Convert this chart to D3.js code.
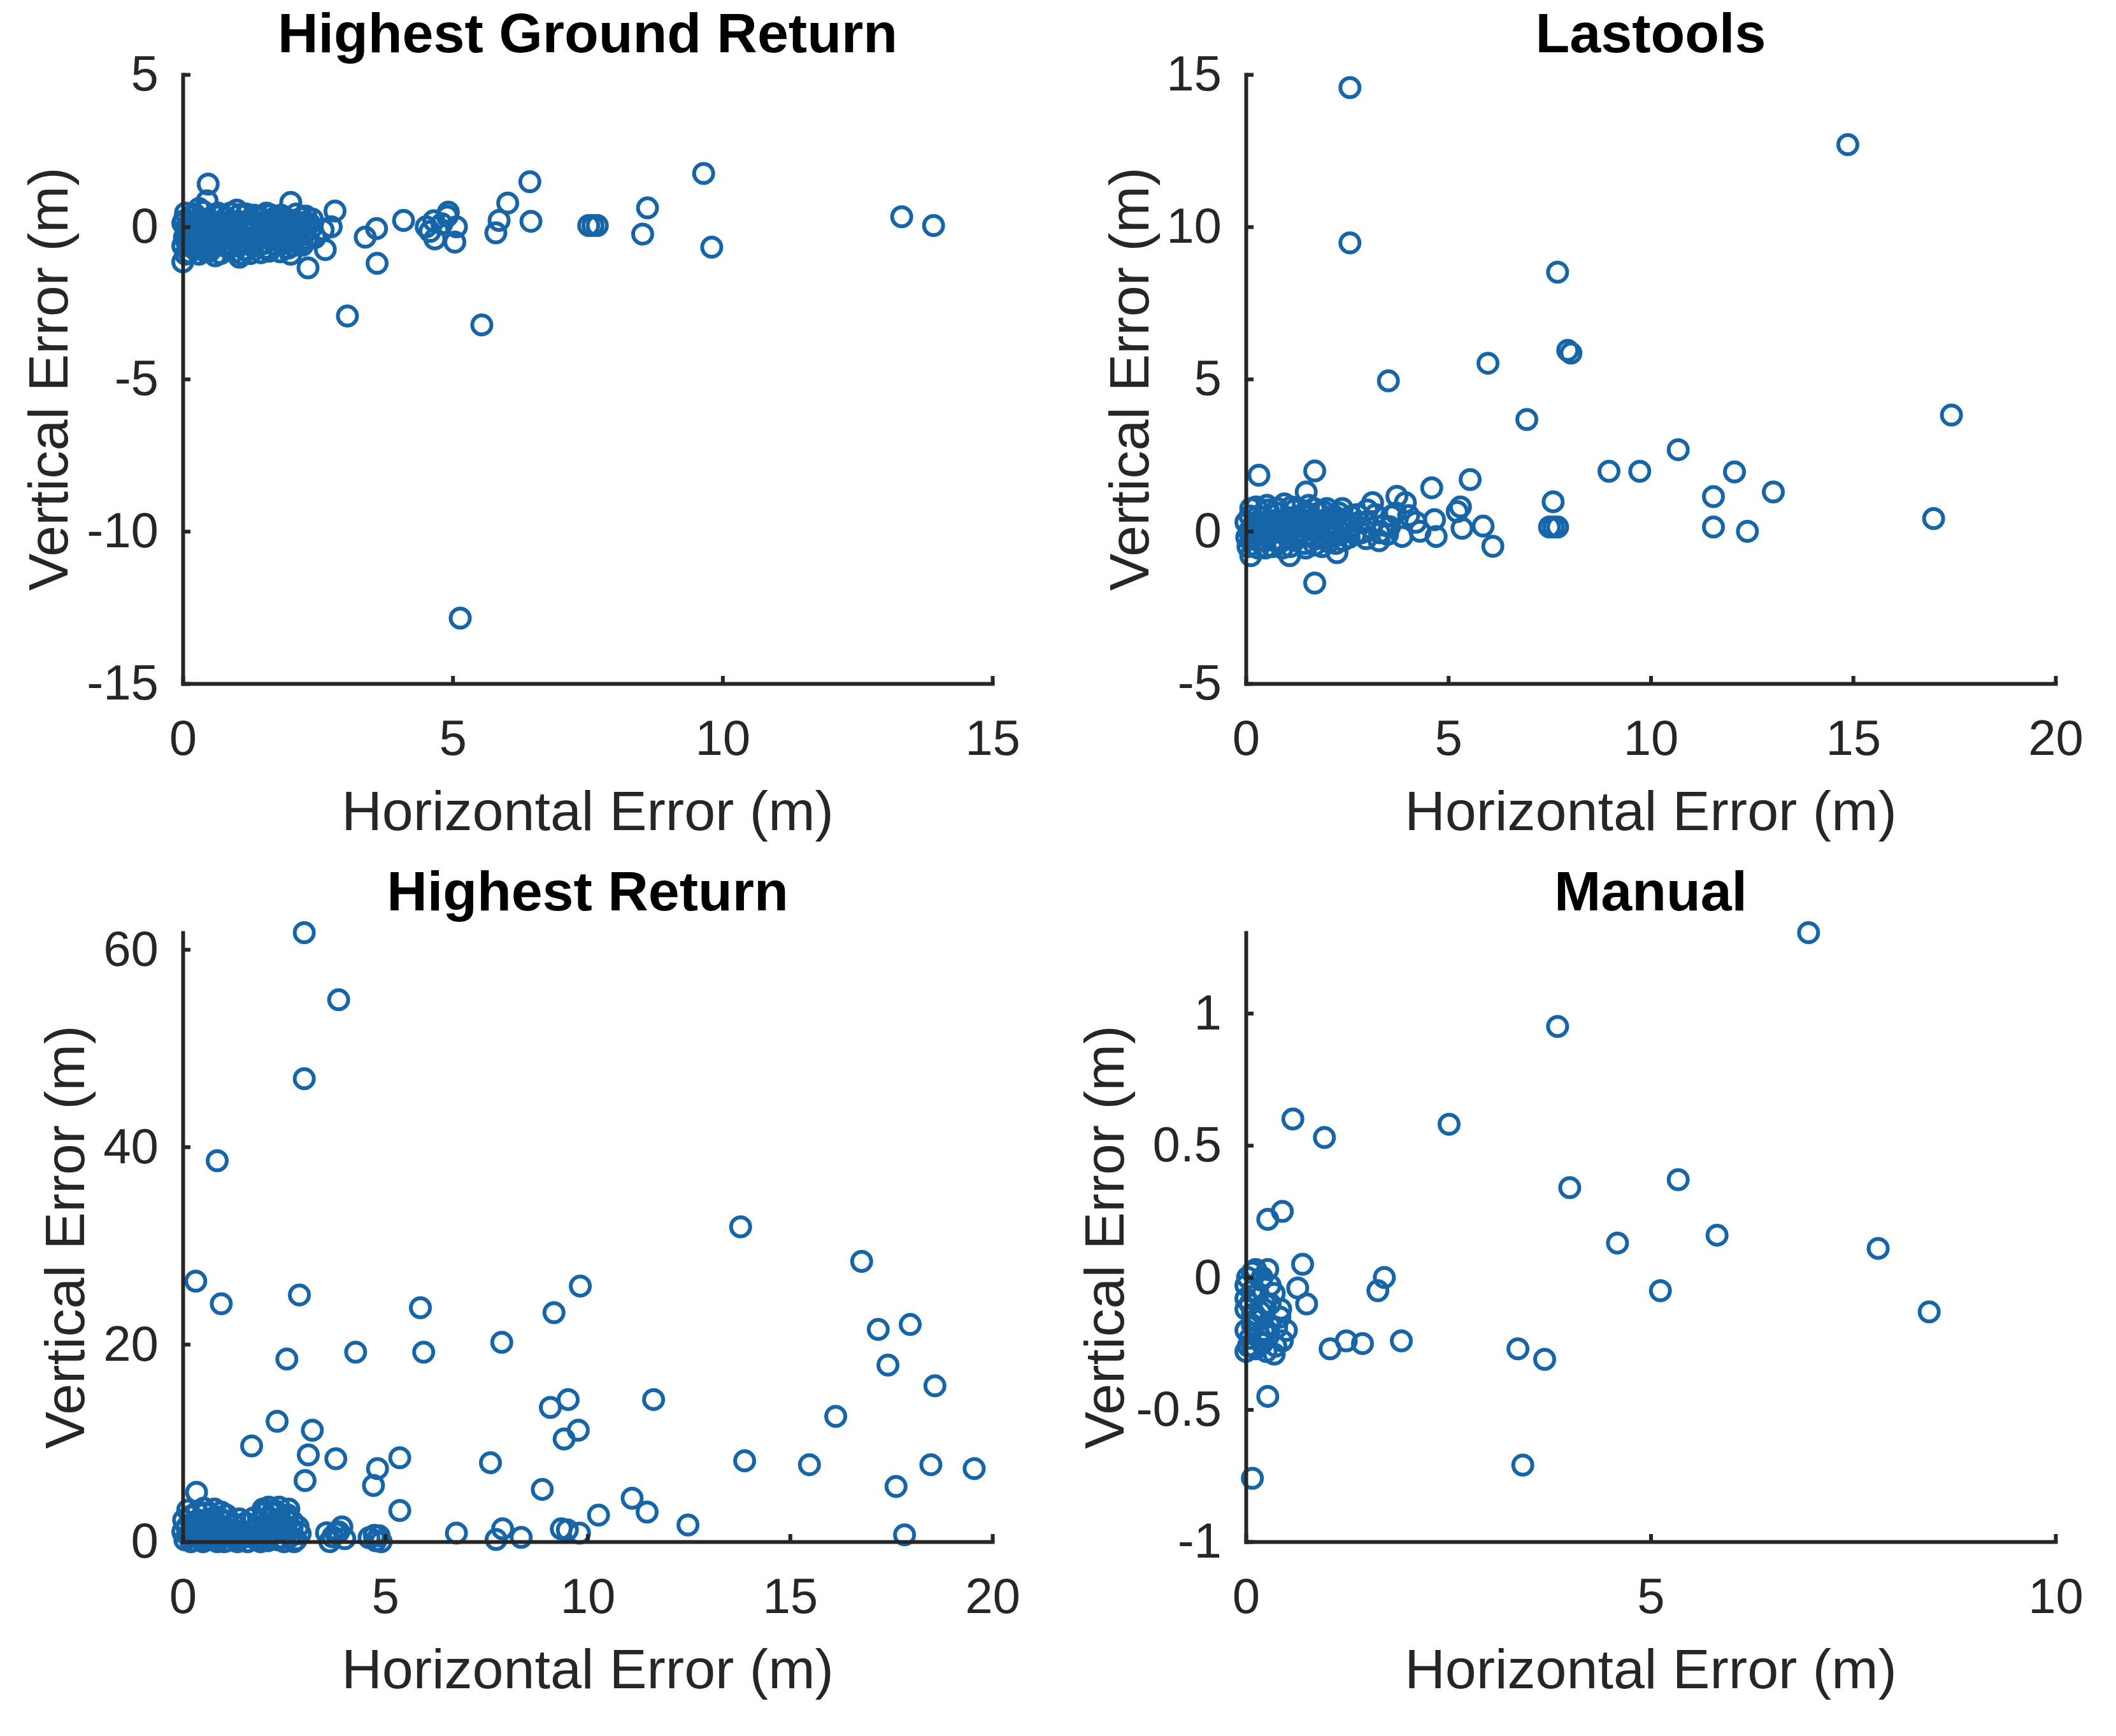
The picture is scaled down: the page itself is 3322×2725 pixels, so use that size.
<!DOCTYPE html>
<html>
<head>
<meta charset="utf-8">
<script src="https://cdn.jsdelivr.net/npm/d3@7"></script>
<style>
  body { margin: 0; background: #fff; }
  svg { display: block; }
</style>
</head>
<body>
<svg id="chart"></svg>
<script>
// horizontal / vertical error pairs [x, y]

const ground_pts = [
  [9.65, 1.75], [6.43, 1.48], [6.02, 0.78], [6.45, 0.18], [8.61, 0.62], [8.52, -0.24],
  [9.8, -0.67], [7.52, 0.04], [7.6, 0.04], [7.68, 0.04], [13.32, 0.33], [13.91, 0.04],
  [3.05, -2.93], [5.54, -3.22], [5.14, -12.85], [3.6, -1.2], [3.59, -0.06], [3.38, -0.34],
  [4.09, 0.21], [4.51, 0.0], [4.9, 0.35], [4.65, 0.2], [5.07, 0.0], [4.67, -0.4],
  [5.04, -0.5], [4.92, 0.48], [5.8, -0.2], [5.86, 0.21], [2.82, 0.52], [2.75, 0.0],
  [2.32, -1.35], [2.64, -0.75], [2.0, 0.8], [0.47, 1.4], [2.45, -0.35], [2.6, -0.1],
  [2.4, 0.25], [4.58, -0.15], [4.8, 0.1],
  // dense cluster near the origin
  [0.05, -0.9], [0.08, -0.5], [0.1, -0.2], [0.12, 0.1], [0.15, 0.35], [0.2, -0.7],
  [0.25, -0.35], [0.28, 0.0], [0.3, 0.6], [0.35, -0.1], [0.4, -0.55], [0.45, 0.25],
  [0.5, -0.8], [0.55, -0.25], [0.6, 0.1], [0.65, 0.45], [0.7, -0.45], [0.75, -0.05],
  [0.8, 0.3], [0.85, -0.7], [0.9, -0.2], [0.95, 0.15], [1.0, -0.5], [1.05, 0.4],
  [1.1, -0.9], [1.12, -0.1], [1.2, 0.2], [1.25, -0.35], [1.3, -0.65], [1.35, 0.05],
  [1.4, 0.35], [1.45, -0.2], [1.5, -0.55], [1.55, 0.15], [1.6, -0.8], [1.65, -0.3],
  [1.7, 0.3], [1.75, 0.0], [1.8, -0.5], [1.85, -0.15], [1.9, 0.2], [1.95, -0.7],
  [2.0, -0.35], [2.05, 0.1], [2.1, -0.1], [2.15, -0.55], [2.2, 0.3], [2.25, -0.25],
  [2.3, 0.05], [0.02, 0.2], [0.03, -0.35], [0.0, -1.15], [0.6, -0.95], [1.15, -0.75],
  [0.45, 0.85], [1.0, 0.55], [1.05, -1.0],
  [0.05, 0.45], [0.22, 0.42], [0.38, 0.5], [0.58, 0.38], [0.72, 0.4], [0.88, 0.45],
  [1.18, 0.42], [1.32, 0.38], [1.55, 0.45], [1.62, 0.4], [1.82, 0.38], [2.1, 0.42],
  [2.28, 0.35], [0.0, 0.12], [0.2, 0.18], [0.4, 0.12], [0.52, 0.2], [0.7, 0.15],
  [0.85, 0.1], [1.0, 0.18], [1.28, 0.15], [1.45, 0.12], [1.62, 0.2], [1.8, 0.1],
  [2.0, 0.22], [2.15, 0.15], [2.35, 0.1], [0.05, -0.05], [0.18, -0.12], [0.42, -0.08],
  [0.5, -0.15], [0.65, -0.1], [0.82, -0.05], [1.02, -0.12], [1.18, -0.08], [1.3, -0.15],
  [1.5, -0.05], [1.68, -0.12], [1.95, -0.08], [2.18, -0.12], [2.38, -0.05], [0.12, -0.38],
  [0.3, -0.3], [0.48, -0.4], [0.62, -0.32], [0.8, -0.38], [0.95, -0.3], [1.1, -0.4],
  [1.4, -0.32], [1.58, -0.38], [1.75, -0.3], [1.9, -0.4], [2.08, -0.32], [2.3, -0.4],
  [0.0, -0.62], [0.15, -0.55], [0.3, -0.65], [0.58, -0.58], [0.75, -0.62], [0.92, -0.6],
  [1.15, -0.55], [1.4, -0.62], [1.55, -0.7], [1.72, -0.6], [1.88, -0.55], [2.05, -0.62],
  [2.22, -0.6], [0.12, -0.85], [0.3, -0.9], [0.42, -0.82], [0.7, -0.88], [0.95, -0.82],
  [1.25, -0.88], [1.45, -0.85], [1.8, -0.82], [2.0, -0.9]
];

const lastools_pts = [
  [2.57, 14.57], [2.57, 9.47], [14.87, 12.7], [7.7, 8.51], [7.95, 5.94], [8.03, 5.85],
  [5.98, 5.52], [3.52, 4.94], [6.94, 3.67], [17.43, 3.82], [10.68, 2.68], [8.97, 1.97],
  [9.73, 1.97], [12.07, 1.95], [13.03, 1.29], [11.55, 1.14], [11.55, 0.14], [12.39, 0.0],
  [16.99, 0.42], [7.59, 0.97], [7.5, 0.14], [7.6, 0.14], [7.7, 0.14], [1.7, -1.7],
  [0.32, 1.84], [1.7, 1.98], [5.54, 1.7], [4.59, 1.43], [6.1, -0.49], [5.86, 0.17],
  [5.34, 0.1], [4.7, -0.17], [4.66, 0.38], [5.3, 0.8], [5.22, 0.65], [3.73, 1.15],
  [3.94, 0.94], [4.02, 0.52], [3.86, -0.17], [3.29, -0.31], [2.97, -0.24], [3.13, 0.94],
  [2.25, -0.7], [1.08, -0.8], [0.12, -0.8], [1.49, 1.29],
  // dense cluster near the origin
  [0.05, -0.5], [0.08, 0.0], [0.1, 0.5], [0.15, -0.25], [0.2, 0.25], [0.25, 0.8],
  [0.3, -0.55], [0.35, 0.05], [0.4, 0.45], [0.45, -0.3], [0.5, 0.2], [0.55, 0.7],
  [0.6, -0.1], [0.65, -0.5], [0.7, 0.35], [0.75, 0.0], [0.8, 0.6], [0.85, -0.35],
  [0.9, 0.15], [0.95, 0.9], [1.0, -0.15], [1.05, 0.45], [1.1, -0.5], [1.15, 0.1],
  [1.2, 0.7], [1.25, -0.25], [1.3, 0.3], [1.35, 0.0], [1.4, 0.55], [1.45, -0.4],
  [1.5, 0.2], [1.55, 0.85], [1.6, -0.1], [1.65, 0.4], [1.7, -0.45], [1.75, 0.1],
  [1.8, 0.6], [1.85, -0.2], [1.9, 0.3], [1.95, 0.0], [2.0, 0.75], [2.05, -0.35],
  [2.1, 0.45], [2.15, 0.1], [2.2, -0.15], [2.3, 0.6], [2.35, 0.25], [2.4, -0.3],
  [2.5, 0.05], [2.6, 0.5], [2.7, -0.1], [2.8, 0.3], [3.0, 0.7], [3.4, 0.2],
  [3.5, -0.1], [3.6, 0.5], [4.2, 0.3], [4.3, 0.0],
  [0.0, 0.3], [0.02, -0.2], [0.12, 0.75], [0.18, 0.0], [0.28, -0.3], [0.3, 0.5],
  [0.42, 0.15], [0.48, -0.55], [0.52, 0.85], [0.62, 0.3], [0.68, -0.3], [0.78, 0.75],
  [0.82, 0.1], [0.9, -0.55], [0.98, 0.4], [1.08, 0.15], [1.12, 0.8], [1.18, -0.3],
  [1.28, 0.5], [1.32, -0.1], [1.42, 0.2], [1.48, -0.55], [1.52, 0.6], [1.62, 0.15],
  [1.68, 0.75], [1.72, -0.25], [1.82, 0.35], [1.88, -0.5], [1.92, 0.65], [2.02, 0.2],
  [2.08, -0.15], [2.18, 0.5], [2.22, -0.4], [2.28, 0.05], [2.38, 0.75], [2.45, 0.35],
  [2.55, -0.2], [2.62, 0.15], [2.75, 0.55], [2.85, -0.05], [2.95, 0.3], [3.1, 0.1],
  [3.2, 0.55], [3.3, -0.05], [3.55, 0.15], [3.7, 0.6]
];

const highest_pts = [
  [3.0, 61.7], [3.85, 54.9], [3.0, 46.9], [0.85, 38.6], [13.78, 31.9], [16.77, 28.4],
  [0.32, 26.4], [0.95, 24.1], [2.88, 25.0], [5.87, 23.7], [9.82, 25.9], [9.17, 23.2],
  [7.88, 20.2], [5.95, 19.2], [4.27, 19.2], [2.57, 18.5], [17.18, 21.5], [17.97, 22.0],
  [17.42, 17.9], [18.58, 15.8], [11.63, 14.4], [9.52, 14.4], [9.08, 13.6], [16.13, 12.7],
  [2.33, 12.2], [3.2, 11.3], [9.77, 11.3], [9.42, 10.4], [1.7, 9.7], [3.1, 8.8],
  [3.78, 8.4], [5.36, 8.5], [4.81, 7.4], [4.71, 5.7], [7.6, 8.0], [13.88, 8.2],
  [15.48, 7.8], [18.48, 7.8], [19.55, 7.4], [3.02, 6.2], [8.88, 5.3], [17.62, 5.6],
  [11.1, 4.4], [11.47, 3.0], [10.27, 2.7], [5.36, 3.16], [12.48, 1.7], [0.34, 5.0],
  [17.83, 0.7], [6.76, 0.87], [7.9, 1.3], [7.74, 0.22], [8.36, 0.44], [9.35, 1.3],
  [9.8, 0.87], [9.5, 1.2], [3.78, 0.87], [3.93, 1.5], [3.63, 0.0], [4.73, 0.65],
  [4.77, 0.1], [3.7, 0.5], [3.85, 1.0], [4.0, 0.3], [3.55, 0.9], [4.6, 0.4],
  [4.85, 0.6], [4.9, 0.0],
  // dense cluster near the origin
  [0.05, 0.2], [0.1, 1.5], [0.15, 0.6], [0.2, 2.6], [0.25, 0.1], [0.3, 1.1],
  [0.35, 3.0], [0.4, 0.4], [0.45, 1.9], [0.5, 0.0], [0.55, 2.9], [0.6, 0.8],
  [0.65, 1.4], [0.7, 0.2], [0.75, 2.4], [0.8, 0.9], [0.85, 0.0], [0.9, 1.7],
  [0.95, 3.0], [1.0, 0.5], [1.05, 2.1], [1.1, 0.1], [1.2, 1.2], [1.3, 0.3],
  [1.4, 2.3], [1.5, 0.6], [1.6, 0.0], [1.7, 1.0], [1.8, 0.3], [1.9, 2.0],
  [1.95, 0.5], [2.0, 2.9], [2.05, 1.2], [2.1, 0.1], [2.15, 2.4], [2.2, 0.7],
  [2.25, 1.7], [2.3, 3.1], [2.35, 0.2], [2.4, 2.2], [2.45, 1.0], [2.5, 0.0],
  [2.55, 1.6], [2.6, 2.7], [2.65, 0.5], [2.7, 1.3], [2.8, 0.2], [2.9, 0.8],
  [0.0, 1.0], [0.02, 2.2], [0.12, 3.2], [0.2, 0.0], [0.22, 1.8], [0.32, 0.6],
  [0.38, 2.2], [0.48, 1.2], [0.52, 3.4], [0.6, 0.2], [0.62, 2.0], [0.72, 1.0],
  [0.78, 3.3], [0.82, 0.5], [0.88, 2.5], [0.98, 1.3], [1.02, 0.0], [1.08, 2.7],
  [1.15, 0.8], [1.25, 1.8], [1.35, 0.0], [1.45, 1.1], [1.55, 1.9], [1.65, 0.5],
  [1.75, 2.4], [1.85, 1.3], [1.92, 0.0], [1.98, 3.3], [2.08, 1.8], [2.12, 3.5],
  [2.2, 2.9], [2.28, 1.0], [2.38, 3.5], [2.42, 0.4], [2.52, 2.5], [2.58, 0.9],
  [2.62, 3.3], [2.72, 2.0], [2.75, 0.0], [2.85, 1.5]
];

const manual_pts = [
  [6.95, 1.305], [3.85, 0.95], [0.58, 0.6], [0.97, 0.53], [2.51, 0.58], [5.34, 0.37],
  [4.0, 0.34], [5.82, 0.16], [4.59, 0.13], [7.81, 0.11], [5.12, -0.05], [8.44, -0.13],
  [0.27, 0.22], [0.45, 0.25], [3.36, -0.27], [3.69, -0.31], [3.42, -0.71], [0.27, -0.45],
  [0.08, -0.76], [1.92, -0.24], [1.44, -0.25], [1.24, -0.24], [1.04, -0.27], [1.71, 0.0],
  [1.63, -0.05], [0.7, 0.05], [0.64, -0.04], [0.75, -0.1],
  [0.27, 0.03], [0.08, 0.02], [0.08, -0.05], [0.24, -0.1], [0.43, -0.12], [0.08, -0.14],
  [0.29, -0.18], [0.5, -0.2], [0.08, -0.18], [0.08, -0.26], [0.37, -0.26], [0.16, -0.22],
  [0.0, -0.08], [0.03, -0.26], [0.19, -0.01],
  [0.02, 0.0], [0.12, 0.03], [0.2, 0.0], [0.3, -0.03], [0.0, -0.03], [0.15, -0.06],
  [0.35, -0.06], [0.05, -0.1], [0.18, -0.13], [0.3, -0.1], [0.42, -0.15], [0.0, -0.12],
  [0.12, -0.16], [0.22, -0.2], [0.38, -0.19], [0.0, -0.2], [0.05, -0.23], [0.2, -0.25],
  [0.28, -0.22], [0.45, -0.24], [0.12, -0.27], [0.25, -0.28], [0.0, -0.28], [0.35, -0.29]
];

// axis limits and tick values
const ground_xlim = [0, 15];
const ground_ylim = [-15, 5];
const ground_xticks = [0, 5, 10, 15];
const ground_yticks = [-15, -10, -5, 0, 5];

const lastools_xlim = [0, 20];
const lastools_ylim = [-5, 15];
const lastools_xticks = [0, 5, 10, 15, 20];
const lastools_yticks = [-5, 0, 5, 10, 15];

const highest_xlim = [0, 20];
const highest_ylim = [0, 61.7];
const highest_xticks = [0, 5, 10, 15, 20];
const highest_yticks = [0, 20, 40, 60];

const manual_xlim = [0, 10];
const manual_ylim = [-1, 1.305];
const manual_xticks = [0, 5, 10];
const manual_yticks = [-1, -0.5, 0, 0.5, 1];

const titles = ['Highest Ground Return', 'Lastools', 'Highest Return', 'Manual'];
const x_label = 'Horizontal Error (m)';
const y_label = 'Vertical Error (m)';

// page and style constants
const WIDTH = 3322;
const HEIGHT = 2725;
const PANEL_W = 1271;
const PANEL_H = 956;
const FONT = '"Liberation Sans", Arial, Helvetica, sans-serif';
const MARKER = '#1565a8';
const AXIS = '#262626';

let svg = d3.select('#chart')
  .attr('width', WIDTH)
  .attr('height', HEIGHT)
  .attr('viewBox', `0 0 ${WIDTH} ${HEIGHT}`);

svg.append('rect')
  .attr('width', WIDTH)
  .attr('height', HEIGHT)
  .attr('fill', '#fff');

/**
 * Draws one scatter panel with matlab-like inward ticks
 */
function plot_scatter (pts, xlim, ylim, xticks, yticks, title, pos) {
  let g = svg.append('g')
    .attr('transform', `translate(${pos.left}, ${pos.top})`);

  let x = d3.scaleLinear().domain(xlim).range([0, PANEL_W]);
  let y = d3.scaleLinear().domain(ylim).range([PANEL_H, 0]);

  // markers
  g.append('g')
    .selectAll('circle')
    .data(pts)
    .join('circle')
    .attr('cx', (d) => x(d[0]))
    .attr('cy', (d) => y(d[1]))
    .attr('r', 15)
    .attr('fill', 'none')
    .attr('stroke', MARKER)
    .attr('stroke-width', 6);

  // x axis
  let xa = g.append('g')
    .attr('transform', `translate(0, ${PANEL_H})`)
    .call(d3.axisBottom(x)
      .tickValues(xticks)
      .tickFormat((d) => String(d))
      .tickSizeInner(-12)
      .tickSizeOuter(0)
      .tickPadding(57));

  // y axis
  let ya = g.append('g')
    .call(d3.axisLeft(y)
      .tickValues(yticks)
      .tickFormat((d) => String(d))
      .tickSizeInner(-12)
      .tickSizeOuter(0)
      .tickPadding(38));

  [xa, ya].forEach((a) => {
    a.attr('color', AXIS)
      .attr('font-family', FONT)
      .attr('font-size', 78);
    a.select('.domain')
      .attr('stroke-width', 6)
      .attr('stroke-linecap', 'square');
    a.selectAll('.tick line').attr('stroke-width', 6);
  });

  // title
  g.append('text')
    .attr('x', PANEL_W / 2)
    .attr('y', -35)
    .attr('text-anchor', 'middle')
    .attr('font-family', FONT)
    .attr('font-weight', 'bold')
    .attr('font-size', 88)
    .attr('fill', '#000')
    .text(title);

  // axis labels
  g.append('text')
    .attr('x', PANEL_W / 2)
    .attr('y', PANEL_H + 230)
    .attr('text-anchor', 'middle')
    .attr('font-family', FONT)
    .attr('font-size', 88)
    .attr('fill', AXIS)
    .text(x_label);

  g.append('text')
    .attr('transform', `translate(${-pos.ylab + 32}, ${PANEL_H / 2}) rotate(-90)`)
    .attr('text-anchor', 'middle')
    .attr('font-family', FONT)
    .attr('font-size', 88)
    .attr('fill', AXIS)
    .text(y_label);
}

plot_scatter(ground_pts, ground_xlim, ground_ylim, ground_xticks, ground_yticks,
  titles[0], { left: 287, top: 117, ylab: 213 });
plot_scatter(lastools_pts, lastools_xlim, lastools_ylim, lastools_xticks, lastools_yticks,
  titles[1], { left: 1956, top: 117, ylab: 185 });
plot_scatter(highest_pts, highest_xlim, highest_ylim, highest_xticks, highest_yticks,
  titles[2], { left: 287, top: 1464, ylab: 187 });
plot_scatter(manual_pts, manual_xlim, manual_ylim, manual_xticks, manual_yticks,
  titles[3], { left: 1956, top: 1464, ylab: 224 });
</script>
</body>
</html>
